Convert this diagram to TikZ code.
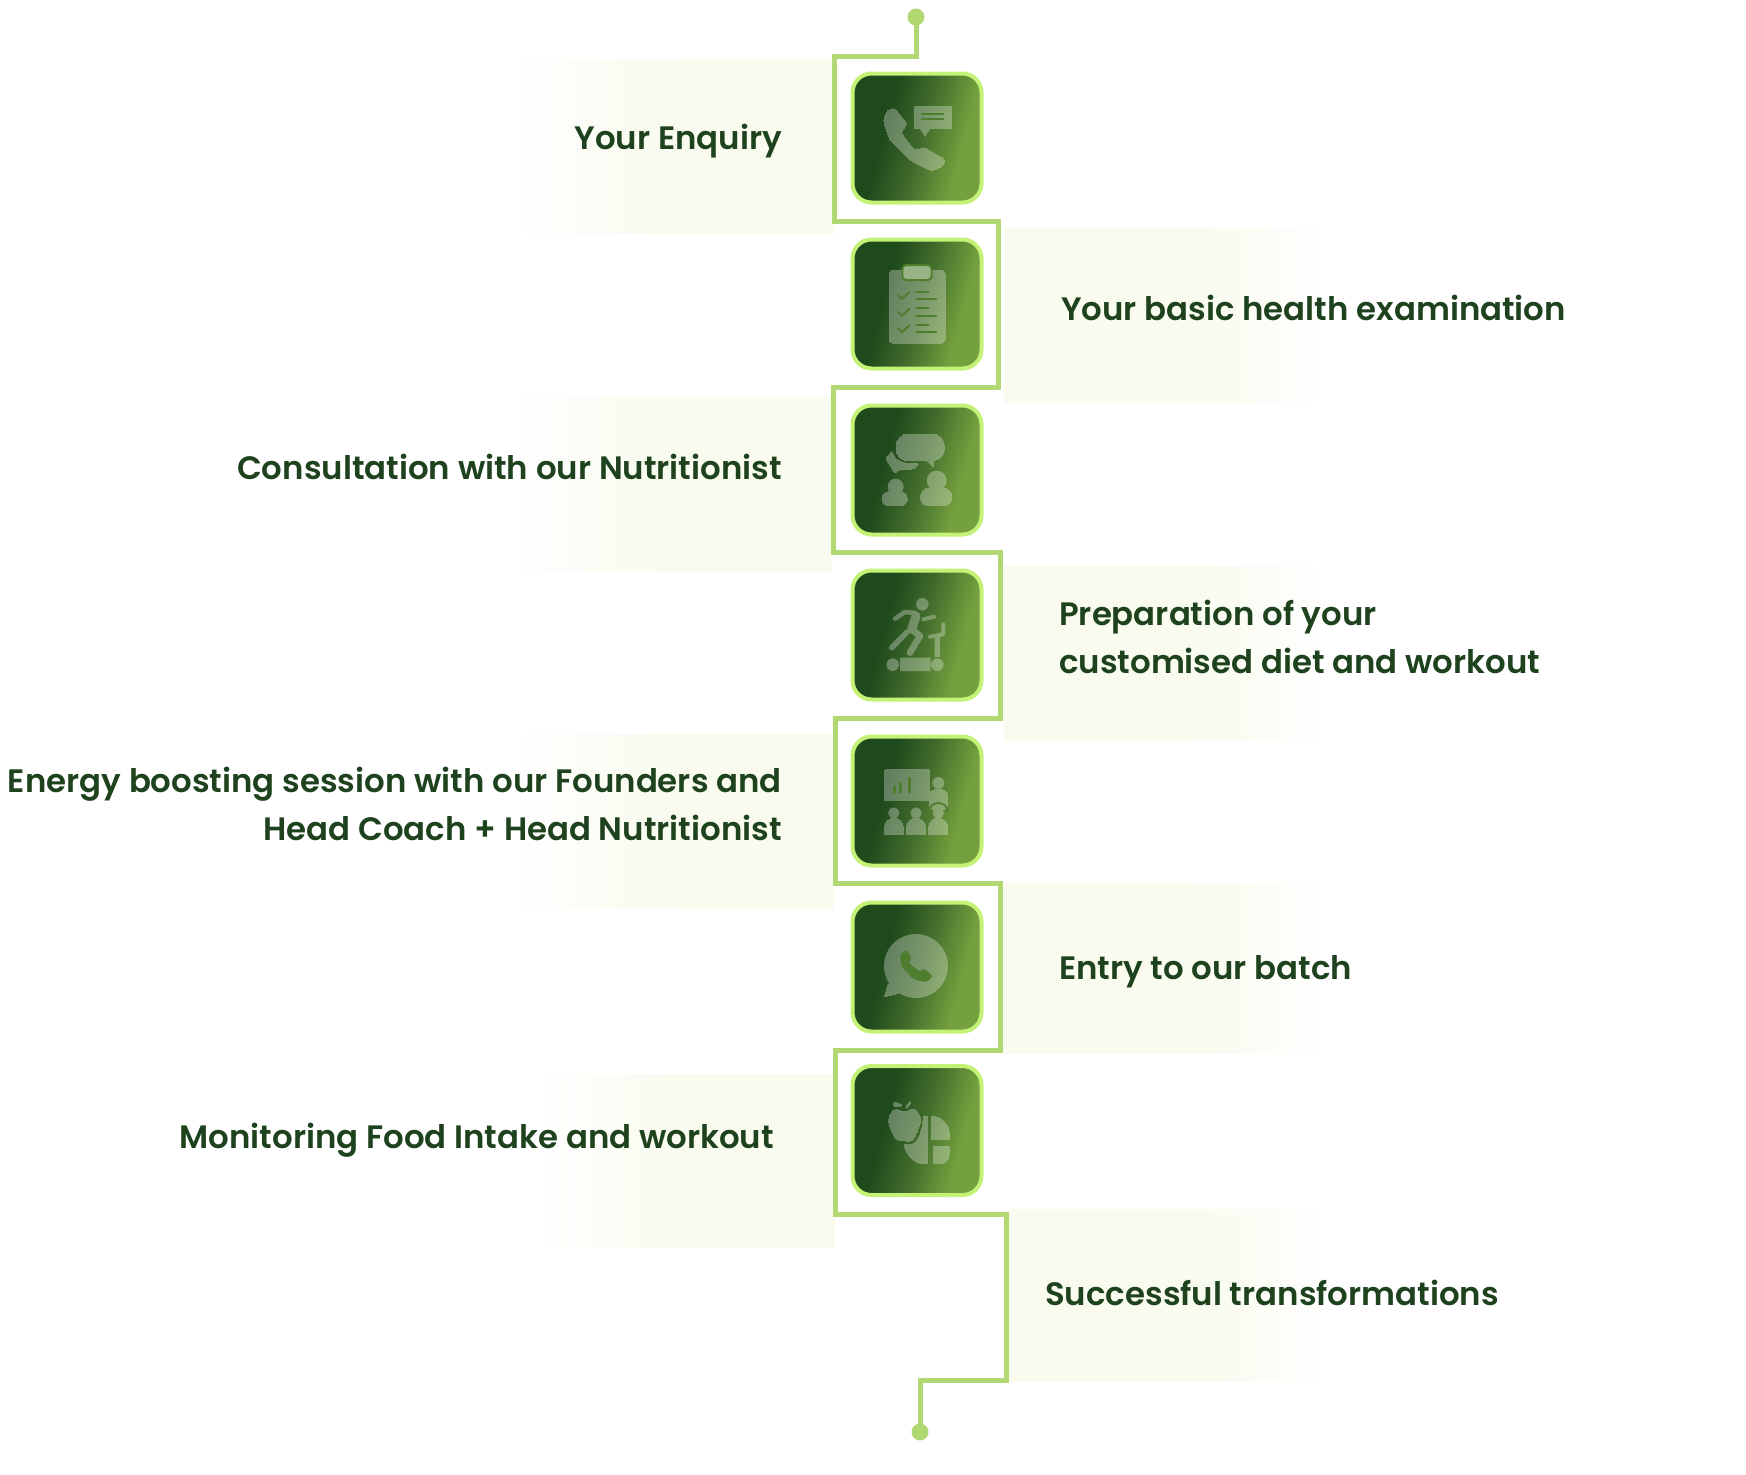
\documentclass[tikz,border=0pt]{standalone}
\usepackage{fontspec}
\setmainfont{Poppins}[UprightFont=* SemiBold, BoldFont=* Bold]
\usetikzlibrary{positioning,calc}
\definecolor{leafdark}{HTML}{1F4A1C}
\definecolor{leafmid}{HTML}{436D2C}
\definecolor{leaflight}{HTML}{74A03E}
\definecolor{routegreen}{HTML}{B2D873}
\definecolor{rimgreen}{HTML}{C3F277}
\definecolor{bandgreen}{HTML}{F8FBEE}
\definecolor{inkgreen}{HTML}{1E421D}
\definecolor{notchgreen}{HTML}{4E7D30}
\pgfdeclarehorizontalshading{tileshade}{100bp}{
  color(0bp)=(leafdark); color(37bp)=(leafdark); color(52bp)=(leafmid);
  color(68bp)=(leaflight); color(100bp)=(leaflight)}
\pgfdeclarehorizontalshading{leftband}{100bp}{
  color(0bp)=(white); color(23bp)=(white); color(50bp)=(bandgreen); color(100bp)=(bandgreen)}
\pgfdeclarehorizontalshading{rightband}{100bp}{
  color(0bp)=(bandgreen); color(55bp)=(bandgreen); color(77bp)=(white); color(100bp)=(white)}

\begin{document}
\begin{tikzpicture}[
    x=1pt, y=-1pt,
    tile/.style={rectangle, draw=rimgreen, line width=4pt, rounded corners=19pt, minimum width=129pt, minimum height=129pt, shading=tileshade, shading angle=-15, inner sep=0pt},
    stepleft/.style={font=\fontsize{32.4}{48}\selectfont, text=inkgreen, anchor=east, align=right, inner sep=0pt},
    stepright/.style={font=\fontsize{32.4}{48}\selectfont, text=inkgreen, anchor=west, align=left, inner sep=0pt},
    band/.style={rectangle, draw=none, inner sep=0pt, anchor=north west},
    route/.style={draw=routegreen, line width=5pt, miter limit=10},
    enddot/.style={circle, fill=routegreen, draw=none, minimum size=17pt, inner sep=0pt},
    glyph/.style={fill=white, draw=white, line width=0pt},
    limb/.style={draw=white, line width=5.5pt, line cap=round, line join=round},
    notch/.style={draw=notchgreen, line width=2pt, line cap=round},
    notchfill/.style={fill=notchgreen, draw=none}
]
\useasboundingbox (0,0) rectangle (1746,1475);

% Pale bands behind the labels
\node[band, shading=leftband, minimum width=314pt, minimum height=174pt] (band1) at (520,59) {};
\node[band, shading=rightband, minimum width=312pt, minimum height=174pt] (band2) at (1004,228) {};
\node[band, shading=leftband, minimum width=312pt, minimum height=174pt] (band3) at (520,397) {};
\node[band, shading=rightband, minimum width=312pt, minimum height=174pt] (band4) at (1004,566) {};
\node[band, shading=leftband, minimum width=314pt, minimum height=174pt] (band5) at (520,734) {};
\node[band, shading=rightband, minimum width=312pt, minimum height=170pt] (band6) at (1003,883) {};
\node[band, shading=leftband, minimum width=290pt, minimum height=173pt] (band7) at (545,1074) {};
\node[band, shading=rightband, minimum width=312pt, minimum height=172pt] (band8) at (1008,1209) {};

% Line that runs round the tiles
\node[enddot] (startdot) at (916,17) {};
\node[enddot] (finishdot) at (920,1432) {};
\coordinate (bend1) at (916,56);
\coordinate (bend2) at (834,56);
\coordinate (bend3) at (834,221);
\coordinate (bend4) at (998,221);
\coordinate (bend5) at (998,387);
\coordinate (bend6) at (833,387);
\coordinate (bend7) at (833,552);
\coordinate (bend8) at (1000,552);
\coordinate (bend9) at (1000,718);
\coordinate (bend10) at (835,718);
\coordinate (bend11) at (835,883);
\coordinate (bend12) at (1000,883);
\coordinate (bend13) at (1000,1050);
\coordinate (bend14) at (835,1050);
\coordinate (bend15) at (835,1214);
\coordinate (bend16) at (1006,1214);
\coordinate (bend17) at (1006,1380);
\coordinate (bend18) at (920,1380);
\draw[route] (startdot.center) -- (bend1) -- (bend2) -- (bend3) -- (bend4) -- (bend5) -- (bend6) -- (bend7) -- (bend8) -- (bend9) -- (bend10) -- (bend11) -- (bend12) -- (bend13) -- (bend14) -- (bend15) -- (bend16) -- (bend17) -- (bend18) -- (finishdot.center);

% Tiles
\node[tile] (tile1) at (917,138) {};
\node[tile] (tile2) at (917,304) {};
\node[tile] (tile3) at (917,470) {};
\node[tile] (tile4) at (917,635) {};
\node[tile] (tile5) at (917,801) {};
\node[tile] (tile6) at (917,967) {};
\node[tile] (tile7) at (917,1130.5) {};

% Labels
\node[stepleft] (enquiry) at (782,141.5) {Your Enquiry};
\node[stepright] (exam) at (1061,307.5) {Your basic health examination};
\node[stepleft] (consult) at (782,466.5) {Consultation with our Nutritionist};
\node[stepright] (prep) at (1059,637) {Preparation of your\\customised diet and workout};
\node[stepleft] (session) at (782,804) {Energy boosting session with our Founders and\\Head Coach + Head Nutritionist};
\node[stepright] (entry) at (1059,972) {Entry to our batch};
\node[stepleft] (monitor) at (774,1140.5) {Monitoring Food Intake and workout};
\node[stepright] (success) at (1045,1293) {Successful transformations};

% Phone
\begin{scope}[shift={(tile1.center)}, transparency group, opacity=.3]
  \path[glyph, rounded corners=3pt] (-33.7,-18) -- (-29.7,-28) -- (-22,-29.7) -- (-9.7,-14) -- (-16.3,-6) -- (-2,12.7) -- (7,9.3) -- (28,21.3) -- (26,28) -- (14.7,33) -- (-7,22) -- (-27,2) -- cycle;
  \path[glyph] (-3,-32) -- (34,-32) -- (34,-9.7) -- (13,-9.7) -- (8,-2) -- (3,-9.7) -- (-3,-9.7) -- cycle;
\end{scope}
\draw[notch] ($(tile1.center)+(4.7,-24)$) -- ++(21.6,0);
\draw[notch] ($(tile1.center)+(4.7,-18.7)$) -- ++(21.6,0);

% Clipboard
\begin{scope}[shift={(tile2.center)}, transparency group, opacity=.3]
  \path[glyph, rounded corners=4pt] (-28,-34) rectangle (28,39);
\end{scope}
\draw[notch, fill=white!42!notchgreen, rounded corners=4pt] ($(tile2.center)+(-14.7,-39)$) rectangle ($(tile2.center)+(14.7,-24)$);
\foreach \rowy in {-9,7.7,24.3} {
  \draw[notch, line join=round] ($(tile2.center)+(-19,\rowy)$) -- ++(4,4) -- ++(7.5,-7);
  \draw[notch] ($(tile2.center)+(-1,\rowy-3.3)$) -- ++(12.3,0);
  \draw[notch] ($(tile2.center)+(-1,\rowy+4)$) -- ++(20,0);
}

% Two people talking
\begin{scope}[shift={(tile3.center)}, transparency group, opacity=.3]
  \path[glyph, rounded corners=12pt] (-21,-36) rectangle (27.3,-9.3);
  \path[glyph] (10,-10) -- (16,-3.3) -- (17,-12) -- cycle;
  \path[glyph, rounded corners=2pt] (-25,-19) -- (-31.7,-11.7) -- (-25,-1.7) -- (-22.7,3.3) -- (-17,-1) -- (-3.7,-1) -- (2.3,-6) -- (-12,-6.7) -- (-22,-11.7) -- cycle;
  \fill[white] (-21.3,16.7) circle (8);
  \path[glyph, rounded corners=7pt] (-35,21.7) rectangle (-9.7,35.7);
  \fill[white] (19.7,10.7) circle (10);
  \path[glyph, rounded corners=8pt] (3.7,18.3) rectangle (34.7,35.7);
\end{scope}

% Runner on a treadmill
\begin{scope}[shift={(tile4.center)}, transparency group, opacity=.3]
  \fill[white] (5.3,-30.7) circle (6.3);
  \draw[limb, line width=4.5pt] (-22,-16.3) -- (-12,-23) -- (-2,-22);
  \draw[limb, line width=9pt] (-1,-19) -- (-5.3,-5.7);
  \draw[limb, line width=6.5pt] (-5.3,-5.7) -- (3,1) -- (-7,17.7);
  \draw[limb] (-10,-3) -- (-13.7,1) -- (-25.3,12.7);
  \draw[limb, line width=4pt] (6.3,-15.7) -- (17,-18.3);
  \draw[limb, line width=4pt] (13,1.7) -- (26.3,-.7) -- (26.3,-10.7);
  \draw[limb, line width=5.5pt, line cap=butt] (20.3,1) -- (20.3,22);
  \fill[white] (-24.3,29.7) circle (6.3);
  \fill[white] (20.3,29.7) circle (6.3);
  \fill[white] (-17,22.7) rectangle (13.7,36);
\end{scope}

% Presentation to a group
\begin{scope}[shift={(tile5.center)}, transparency group, opacity=.3]
  \path[glyph, rounded corners=1pt] (-32.7,-31.3) rectangle (12,-.3);
  \fill[white] (21.3,-18) circle (6);
  \path[glyph, rounded corners=6pt] (12,-11.3) rectangle (30.7,8.7);
  \foreach \seatx in {-23.2,-1,21.3} {
    \fill[white] (\seatx,12) circle (5.6);
    \path[glyph] ($(\seatx,17)+(-9.4,16.7)$) -- ++(0,-8) .. controls +(0,-11) and +(0,-11) .. ++(18.8,0) -- ++(0,8) -- cycle;
  }
\end{scope}
\draw[notch, line width=3pt] ($(tile5.center)+(-23,-14.7)$) -- ++(0,6);
\draw[notch, line width=3pt] ($(tile5.center)+(-16.3,-18)$) -- ++(0,9.3);
\draw[notch, line width=3pt] ($(tile5.center)+(-8,-23)$) -- ++(0,14.3);
\draw[notchgreen, line width=1.8pt] ($(tile5.center)+(12,11)$) .. controls +(0,-12) and +(0,-12) .. ++(18.7,0);

% Chat bubble
\begin{scope}[shift={(tile6.center)}, transparency group, opacity=.3]
  \fill[white] (-1,-1) circle (32);
  \path[glyph, rounded corners=1pt] (-28.7,16.3) -- (-32.7,29.7) -- (-18.7,26.3) -- (-10,20) -- cycle;
\end{scope}
\path[notchfill, rounded corners=2.5pt, shift={(tile6.center)}] (-17,-12) -- (-11,-17.7) -- (-5.3,-8.7) -- (-8.7,-4.3) -- (3,4.7) -- (7,1.3) -- (15.7,9) -- (9.7,15.3) -- (-3.7,12.3) -- (-15.3,-.3) -- cycle;

% Apple and food plate
\begin{scope}[shift={(tile7.center)}, transparency group, opacity=.3]
  \path[glyph] plot[smooth cycle, tension=.7] coordinates {(-13,-18.7) (-22,-21) (-28,-12) (-26,-1) (-20,9) (-13,10) (-5,10) (1,-2) (3.7,-12) (-3,-21)};
  \path[glyph, rounded corners=1.5pt] (-23.7,-28) -- (-16,-27) -- (-15.3,-23.7) -- (-22.7,-23.7) -- cycle;
  \draw[limb, line width=2.5pt] (-10.5,-23) -- (-7,-28);
  \path[glyph] (10.7,-14.3) -- (10.7,33) -- (4.7,33) .. controls (-4,32) and (-11,23) .. (-13,13.7) .. controls (-7,15) and (-2,14) .. (1,8) .. controls (4,3) and (6,-5) .. (6.3,-14.3) -- cycle;
  \path[glyph] (14.7,-14.3) .. controls (24,-14) and (32,-7) .. (32,1.3) -- (32,9) -- (14.7,9) -- cycle;
  \path[glyph] (16.3,15.7) -- (32,15.7) -- (32,25) .. controls (31,29) and (28,33) .. (24,33) -- (16.3,33) -- cycle;
\end{scope}
\end{tikzpicture}
\end{document}
